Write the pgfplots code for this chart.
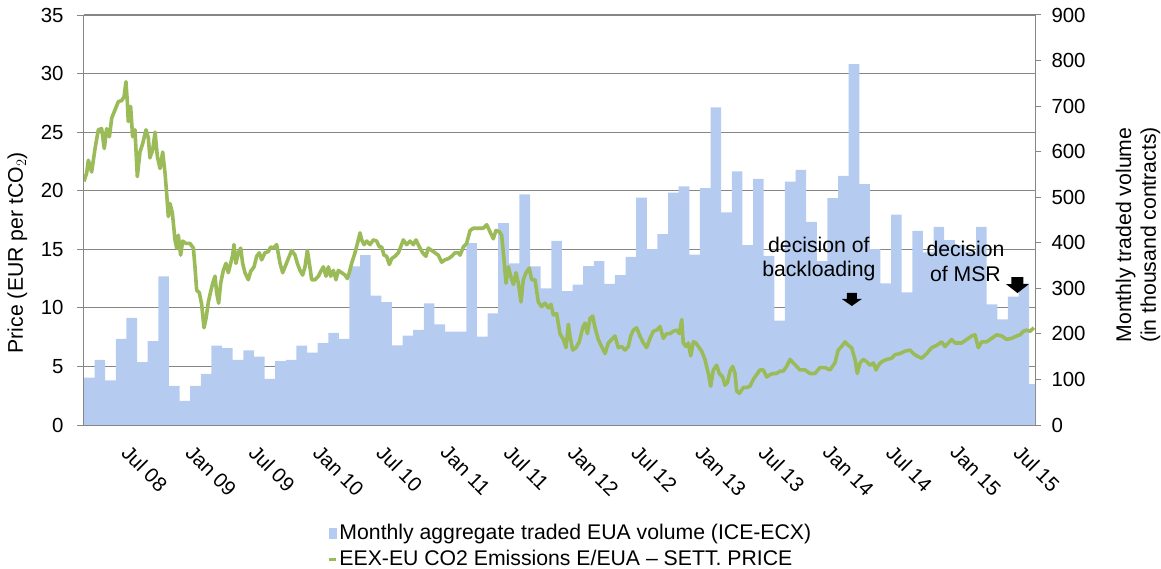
\documentclass[border=0pt]{standalone}
\usepackage{fontspec}
\setmainfont{Liberation Sans}
\usepackage{pgfplots}
\pgfplotsset{compat=1.18}
\definecolor{barblue}{RGB}{181,204,240}
\definecolor{pricegreen}{RGB}{155,187,89}
\definecolor{gridgray}{RGB}{134,134,134}
\newcommand{\tickfont}{\fontsize{20.5}{24}\selectfont}
\newcommand{\chartfont}{\fontsize{21.3}{25}\selectfont}
\begin{document}
\begin{tikzpicture}
% ---------------- volume (right axis), drawn first -----------------
\begin{axis}[
  scale only axis, width=951bp, height=410bp, at={(0,0)}, anchor=south west,
  xmin=0, xmax=89.55, ymin=0, ymax=900,
  axis y line*=right, axis x line=none,
  axis line style={gridgray, line width=1bp},
  ytick={0,100,...,900},
  tick align=outside, major tick length=6bp,
  tick style={gridgray, line width=1bp},
  yticklabel style={font=\tickfont, /pgf/number format/assume math mode=true, anchor=west, xshift=7bp},
  extra y ticks={128.5714,257.1429,385.7143,514.2857,642.8571,771.4286,900},
  extra y tick labels={},
  extra y tick style={grid=major, tick style={draw=none}, major grid style={gridgray, line width=1.1bp}},
  clip=true,
]
\addplot[const plot mark left, fill=barblue, draw=none] coordinates {
(0,104) (1,143) (2,98) (3,189) (4,235) (5,138) (6,184) (7,326) (8,86) (9,53)
(10,86) (11,112) (12,174) (13,169) (14,143) (15,164) (16,150) (17,101) (18,140) (19,143)
(20,174) (21,159) (22,180) (23,202) (24,189) (25,348) (26,373) (27,284) (28,270) (29,175)
(30,196) (31,209) (32,267) (33,221) (34,205) (35,205) (36,399) (37,194) (38,245) (39,443)
(40,355) (41,506) (42,348) (43,300) (44,404) (45,294) (46,308) (47,349) (48,360) (49,310)
(50,329) (51,369) (52,499) (53,386) (54,419) (55,510) (56,524) (57,374) (58,520) (59,697)
(60,467) (61,557) (62,395) (63,540) (64,371) (65,229) (66,534) (67,560) (68,446) (69,360)
(70,498) (71,547) (72,792) (73,529) (74,386) (75,311) (76,462) (77,291) (78,426) (79,379)
(80,435) (81,406) (82,395) (83,380) (84,435) (85,265) (86,232) (87,282) (88,311) (89,90)
(90,90)
} \closedcycle;
\end{axis}
\node[rotate=90, align=center, font=\chartfont] at (1054bp,190bp) {Monthly traded volume\\(in thousand contracts)};
% ---------------- price (left axis) -----------------
\begin{axis}[
  scale only axis, width=951bp, height=410bp, at={(0,0)}, anchor=south west,
  xmin=0, xmax=89.55, ymin=0, ymax=35,
  axis y line*=left, axis x line*=bottom,
  axis line style={gridgray, line width=1bp},
  ytick={0,5,...,35},
  tick align=outside, major tick length=7bp,
  y tick style={gridgray, line width=1bp},
  x tick style={draw=none},
  yticklabel style={font=\tickfont, /pgf/number format/assume math mode=true, xshift=-10bp},
  xtick={4,10,...,88},
  xticklabels={Jul 08,Jan 09,Jul 09,Jan 10,Jul 10,Jan 11,Jul 11,Jan 12,Jul 12,Jan 13,Jul 13,Jan 14,Jul 14,Jan 15,Jul 15},
  xticklabel style={font=\tickfont, rotate=-45, anchor=north west, yshift=-2bp, xshift=8bp},
  ylabel={Price (EUR per tCO$_2$)},
  ylabel style={font=\chartfont, at={(axis description cs:-0.07,0.42)}, anchor=center, rotate=0},
  legend style={at={(axis description cs:0.2557,-0.232)}, anchor=north west, draw=none, fill=none,
    font=\chartfont, inner sep=0pt, row sep=0bp,
    nodes={inner sep=1.5bp, text height=17.5bp, text depth=5.5bp}},
  legend cell align=left,
  clip=true,
]
\addlegendimage{legend image code/.code={\fill[barblue] (0bp,-5bp) rectangle (7bp,5bp);}}
\addlegendentry{Monthly aggregate traded EUA volume (ICE-ECX)}
\addplot[pricegreen, line width=3.6bp, line join=round,
  legend image code/.code={\draw[pricegreen, line width=3.6bp] (0bp,0bp) -- (7bp,0bp);}] coordinates {
(0.00,20.8) (0.25,21.5) (0.41,22.6) (0.72,21.6) (0.88,22.6) (1.04,23.6) (1.35,25.2) (1.66,25.3) (1.91,23.6) (2.13,25.3)
(2.39,24.6) (2.61,26.2) (2.92,26.9) (3.23,27.6) (3.55,27.7) (3.77,28.0) (3.95,29.3) (4.08,27.6) (4.17,25.9) (4.39,27.2)
(4.58,24.6) (4.80,25.2) (5.02,21.2) (5.27,23.3) (5.52,24.0) (5.84,25.2) (6.06,24.5) (6.21,22.8) (6.47,23.5) (6.69,25.0)
(6.91,22.9) (7.16,21.9) (7.41,23.3) (7.63,21.5) (7.78,19.8) (7.94,17.8) (8.10,18.9) (8.32,18.1) (8.57,15.8) (8.73,15.1)
(8.88,16.2) (9.10,14.5) (9.29,15.7) (9.60,15.5) (9.98,15.5) (10.30,15.1) (10.45,13.5) (10.61,11.5) (10.86,11.3) (11.08,10.3)
(11.30,8.3) (11.49,9.1) (11.71,10.5) (11.93,11.4) (12.12,12.1) (12.34,12.7) (12.49,11.3) (12.68,10.4) (12.87,12.1) (13.12,13.2)
(13.37,13.8) (13.59,13.0) (13.81,13.8) (14.00,14.5) (14.12,15.4) (14.31,13.8) (14.53,14.7) (14.75,15.1) (14.94,13.8) (15.16,13.0)
(15.47,12.4) (15.69,13.1) (16.01,13.5) (16.26,14.4) (16.51,14.7) (16.73,14.1) (17.04,14.7) (17.36,14.8) (17.58,15.2) (17.83,15.1)
(18.14,15.4) (18.46,13.8) (18.71,13.0) (18.93,13.5) (19.24,14.2) (19.55,14.9) (19.87,14.5) (20.09,13.8) (20.34,13.2) (20.59,12.8)
(20.81,13.5) (21.03,14.9) (21.22,13.8) (21.44,12.4) (21.75,12.4) (22.07,12.7) (22.29,13.1) (22.54,13.5) (22.79,12.7) (23.01,13.5)
(23.23,12.7) (23.48,13.2) (23.73,12.4) (23.95,13.2) (24.26,13.0) (24.58,12.8) (24.80,12.5) (24.98,13.0) (25.20,13.8) (25.52,14.7)
(25.83,15.8) (25.99,16.4) (26.15,15.8) (26.37,15.4) (26.62,15.7) (26.93,15.4) (27.24,15.8) (27.56,15.7) (27.81,15.2) (28.03,15.2)
(28.25,14.5) (28.50,14.4) (28.75,13.7) (28.97,14.2) (29.28,14.4) (29.60,14.7) (29.82,15.2) (30.07,15.8) (30.38,15.4) (30.70,15.7)
(31.01,15.4) (31.26,15.8) (31.58,15.2) (31.89,14.7) (32.20,14.4) (32.42,15.1) (32.74,14.9) (33.05,14.7) (33.36,14.5) (33.68,13.9)
(33.99,14.1) (34.31,14.2) (34.62,14.4) (34.93,14.7) (35.25,14.7) (35.41,14.5) (35.72,15.2) (36.03,15.5) (36.35,16.6) (36.66,16.8)
(36.97,16.8) (37.29,16.8) (37.60,16.8) (37.92,17.1) (38.23,16.5) (38.54,15.9) (38.79,16.6) (39.11,16.5) (39.33,16.2) (39.55,14.1)
(39.74,12.1) (39.96,13.5) (40.18,12.7) (40.43,12.0) (40.68,13.0) (40.90,12.1) (41.15,10.5) (41.37,12.4) (41.62,13.0) (41.93,13.4)
(42.15,12.4) (42.47,12.4) (42.78,10.5) (43.10,10.1) (43.41,10.4) (43.72,10.0) (43.97,10.3) (44.19,9.4) (44.51,9.5) (44.82,7.8)
(45.14,7.3) (45.39,6.6) (45.61,8.6) (45.76,7.6) (46.01,6.4) (46.33,6.6) (46.64,7.1) (46.96,8.3) (47.18,8.7) (47.40,7.8)
(47.65,9.1) (47.90,9.3) (48.12,8.3) (48.43,7.3) (48.74,6.7) (49.06,6.1) (49.37,7.0) (49.69,7.3) (50.00,7.6) (50.31,6.6)
(50.63,6.7) (50.94,6.4) (51.26,6.7) (51.48,7.6) (51.73,8.1) (52.04,8.3) (52.35,7.6) (52.67,7.0) (52.98,6.6) (53.30,7.4)
(53.61,8.0) (53.92,8.1) (54.24,8.4) (54.55,7.4) (54.87,7.8) (55.18,7.8) (55.49,8.0) (55.81,8.1) (56.06,7.8) (56.28,9.0)
(56.43,7.0) (56.69,6.7) (56.91,7.0) (57.13,5.9) (57.38,7.1) (57.63,7.0) (57.85,6.7) (58.16,6.3) (58.47,5.6) (58.79,4.4)
(59.01,3.3) (59.26,4.7) (59.57,5.1) (59.82,4.4) (60.14,4.1) (60.36,3.4) (60.58,3.6) (60.83,4.6) (61.08,5.0) (61.30,4.4)
(61.46,2.9) (61.71,2.7) (62.08,3.2) (62.40,3.2) (62.71,3.3) (63.03,3.9) (63.34,4.3) (63.65,4.7) (63.97,4.7) (64.28,4.1)
(64.60,4.3) (64.91,4.4) (65.22,4.4) (65.54,4.6) (65.85,4.6) (66.16,5.0) (66.48,5.6) (66.79,5.3) (67.11,5.0) (67.42,4.7)
(67.89,4.7) (68.36,4.4) (68.83,4.4) (69.30,4.9) (69.77,4.9) (70.24,4.7) (70.71,5.3) (71.02,6.4) (71.34,6.7) (71.66,7.1)
(71.97,6.8) (72.28,6.6) (72.60,5.6) (72.82,4.4) (73.07,5.3) (73.38,5.6) (73.70,5.4) (74.01,5.1) (74.33,5.3) (74.58,4.7)
(74.80,5.1) (75.11,5.4) (75.58,5.6) (76.05,5.7) (76.36,6.0) (76.84,6.1) (77.31,6.3) (77.78,6.4) (78.09,6.1) (78.41,5.9)
(78.88,5.7) (79.35,6.1) (79.82,6.6) (80.29,6.8) (80.76,7.1) (81.07,6.7) (81.39,7.0) (81.70,7.3) (82.02,7.0) (82.33,7.0)
(82.64,7.0) (83.12,7.3) (83.59,7.6) (83.90,7.7) (84.21,6.6) (84.53,7.1) (85.00,7.1) (85.47,7.4) (85.94,7.7) (86.41,7.6)
(86.88,7.3) (87.35,7.4) (87.82,7.6) (88.14,7.7) (88.45,8.0) (88.76,8.1) (89.08,8.0) (89.45,8.3)
};
\addlegendentry{EEX-EU CO2 Emissions E/EUA -- SETT. PRICE}
% annotations
\node[font=\chartfont, align=center, inner sep=0pt] at (axis cs:69.2,14.17) {decision of\\backloading};
\node[font=\chartfont, align=center, inner sep=0pt] at (axis cs:83.0,14.0) {decision\\of MSR};
\fill[black] (axis cs:72.3,11.27) ++(-5bp,0bp) -- ++(10bp,0bp) -- ++(0bp,-6bp) -- ++(5bp,0bp) -- ++(-10bp,-7bp) -- ++(-10bp,7bp) -- ++(5bp,0bp) -- cycle;
\fill[black] (axis cs:87.9,12.63) ++(-6bp,0bp) -- ++(12bp,0bp) -- ++(0bp,-7bp) -- ++(5.5bp,0bp) -- ++(-11.5bp,-9bp) -- ++(-11.5bp,9bp) -- ++(5.5bp,0bp) -- cycle;
\end{axis}
\pgfresetboundingbox
\path[use as bounding box] (-84bp,-144bp) rectangle (1077bp,425bp);
\end{tikzpicture}
\end{document}
